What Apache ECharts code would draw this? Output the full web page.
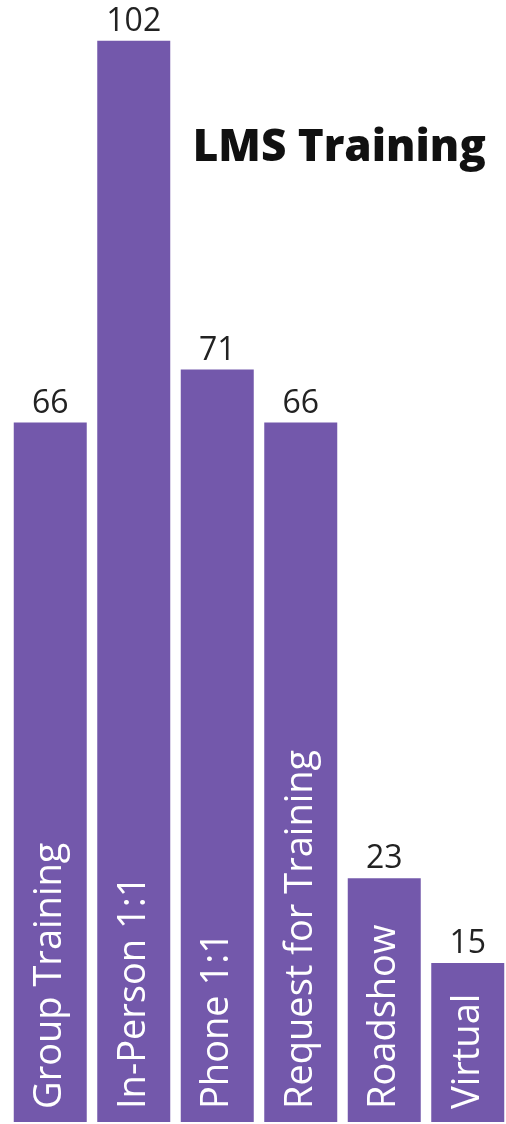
<!DOCTYPE html>
<html>
<head>
<meta charset="utf-8">
<script src="https://cdn.jsdelivr.net/npm/echarts@6/dist/echarts.min.js"></script>
<style>
  html, body { margin: 0; padding: 0; background: #fff; }
  #grafik { width: 506px; height: 1124px; }
</style>
</head>
<body>
<div id="grafik"></div>
<script>
var categories = ['Group Training', 'In-Person 1:1', 'Phone 1:1', 'Request for Training', 'Roadshow', 'Virtual'];
var counts = [66, 102, 71, 66, 23, 15];
var chartTitle = 'LMS Training';

var grafik = echarts.init(document.getElementById('grafik'));

var option = {
  animation: false,
  title: {
    text: chartTitle,
    right: 15,
    top: 121,
    textStyle: { fontFamily: 'Open Sans', fontWeight: 800, fontSize: 44, color: '#111' }
  },
  grid: { left: 8.5, right: -3.5, top: 9, bottom: 2, outerBoundsMode: 'none' },
  xAxis: {
    type: 'category',
    data: categories,
    axisLine: { show: false },
    axisTick: { show: false },
    axisLabel: { show: false }
  },
  yAxis: {
    type: 'value',
    min: 0,
    max: 105,
    show: false,
    splitLine: { show: false }
  },
  series: [
    {
      type: 'bar',
      data: counts,
      barWidth: 73,
      itemStyle: { color: '#7358ab' },
      label: {
        show: true,
        position: 'top',
        distance: 3,
        fontFamily: 'Open Sans',
        fontSize: 32,
        color: '#222'
      }
    },
    {
      // invisible twin, only carries the category names inside the bars
      type: 'bar',
      data: counts,
      barWidth: 73,
      barGap: '-100%',
      itemStyle: { color: 'rgba(0,0,0,0)' },
      label: {
        show: true,
        formatter: '{b}',
        position: 'insideBottom',
        distance: 13,
        rotate: 90,
        align: 'left',
        verticalAlign: 'middle',
        fontFamily: 'Open Sans',
        fontSize: 38,
        color: '#fff'
      }
    }
  ]
};
grafik.setOption(option);
</script>
</body>
</html>
